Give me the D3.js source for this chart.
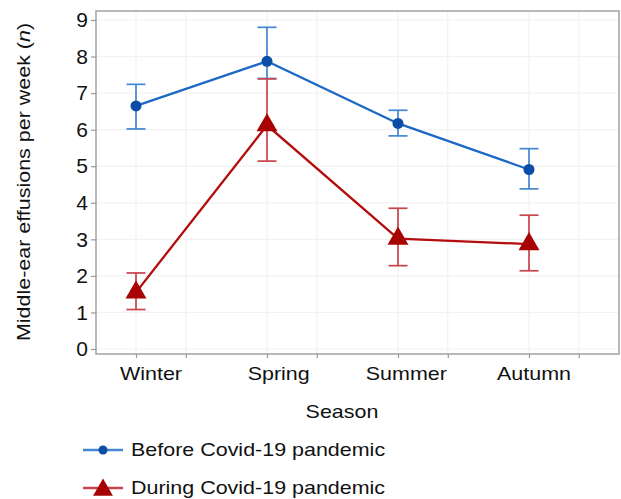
<!DOCTYPE html>
<html>
<head>
<meta charset="utf-8">
<title>Middle-ear effusions per week by season</title>
<script src="https://d3js.org/d3.v7.min.js"></script>
<style>
  body { margin: 0; background: #fff; }
  text { font-family: "Liberation Sans", Arial, sans-serif; fill: #111; }
</style>
</head>
<body>
<script>
// data
var seasons = ["Winter", "Spring", "Summer", "Autumn"];
var beforeMean = [6.65, 7.87, 6.17, 4.91];
var beforeLow  = [6.02, 7.40, 5.83, 4.38];
var beforeHigh = [7.24, 8.80, 6.53, 5.48];
var duringMean = [1.55, 6.12, 3.02, 2.87];
var duringLow  = [1.08, 5.14, 2.28, 2.14];
var duringHigh = [2.08, 7.39, 3.85, 3.66];
var yTicks = [0, 1, 2, 3, 4, 5, 6, 7, 8, 9];
var seriesNames = ["Before Covid-19 pandemic", "During Covid-19 pandemic"];

var W = 621, H = 499;
var svg = d3.select("body").append("svg")
  .attr("width", W).attr("height", H);

var box = {left: 96, top: 11, right: 619, bottom: 354};

var y = d3.scaleLinear().domain([0, 9]).range([349, 20]);
var x = d3.scaleLinear().domain([0, seasons.length - 1]).range([136, 529]);
var xLabel = d3.scaleLinear().domain([0, seasons.length - 1]).range([151, 534]);

// tick positions on the x axis: each season plus a minor one next to it
var xTickVals = [];
seasons.forEach(function(s, i) { xTickVals.push(i, i + 0.38); });

// faint grid
var grid = svg.append("g");
grid.selectAll(".gx").data(xTickVals).enter().append("line")
  .attr("x1", d => x(d)).attr("x2", d => x(d))
  .attr("y1", box.top).attr("y2", box.bottom)
  .attr("stroke", "#f2f2f2").attr("stroke-width", 1.2);
grid.selectAll(".gy").data(yTicks).enter().append("line")
  .attr("x1", box.left).attr("x2", box.right)
  .attr("y1", d => y(d)).attr("y2", d => y(d))
  .attr("stroke", "#f2f2f2").attr("stroke-width", 1.2);

// frame
svg.append("rect")
  .attr("x", box.left).attr("y", box.top)
  .attr("width", box.right - box.left).attr("height", box.bottom - box.top)
  .attr("fill", "none").attr("stroke", "#a8a8a8").attr("stroke-width", 1.6);

// y axis
var yAxis = svg.append("g")
  .attr("transform", "translate(" + box.left + ",0)")
  .call(d3.axisLeft(y).tickValues(yTicks).tickSize(5).tickPadding(3));
yAxis.select(".domain").remove();
yAxis.selectAll(".tick line").attr("stroke", "#999").attr("stroke-width", 1.2);
yAxis.selectAll(".tick text")
  .attr("font-size", 21).attr("fill", "#111")
  .style("font-family", "Liberation Sans, Arial, sans-serif");

// x axis ticks
var xAxis = svg.append("g")
  .attr("transform", "translate(0," + box.bottom + ")")
  .call(d3.axisBottom(x).tickValues(xTickVals).tickSize(4).tickFormat(""));
xAxis.select(".domain").remove();
xAxis.selectAll(".tick line").attr("stroke", "#999").attr("stroke-width", 1.2);

// helper for horizontally widened text
function label(g, px, py, str, size, sx, anchor, rot) {
  var t = g.append("text")
    .attr("transform", "translate(" + px + "," + py + ")" + (rot ? " rotate(" + rot + ")" : "") + " scale(" + sx + ",1)")
    .attr("font-size", size)
    .attr("text-anchor", anchor || "start");
  if (typeof str === "string") t.text(str);
  return t;
}

svg.append("g").selectAll("text").data(seasons).enter().append("text")
  .attr("transform", (d, i) => "translate(" + xLabel(i) + ",380) scale(1.13,1)")
  .attr("text-anchor", "middle").attr("font-size", 19)
  .text(d => d);

label(svg, 342, 418, "Season", 19, 1.13, "middle");

var yt = label(svg, 30, 182, null, 19, 1.13, "middle", -90);
yt.append("tspan").text("Middle-ear effusions per week (");
yt.append("tspan").attr("font-style", "italic").text("n");
yt.append("tspan").text(")");

// series
var series = [
  {mean: beforeMean, low: beforeLow, high: beforeHigh,
   line: "#1c68c6", bar: "#4386d3", mark: "#0b4da6", symbol: "circle"},
  {mean: duringMean, low: duringLow, high: duringHigh,
   line: "#b30d0d", bar: "#c8434a", mark: "#a80303", symbol: "triangle"}
];

var lineGen = d3.line().x((d, i) => x(i)).y(d => y(d));
var capW = 9.5;

series.forEach(function(s) {
  var g = svg.append("g");
  var idx = d3.range(seasons.length);
  var eb = g.selectAll(".eb").data(idx).enter().append("g").attr("stroke", s.bar).attr("stroke-width", 1.7);
  eb.append("line").attr("x1", i => x(i)).attr("x2", i => x(i))
    .attr("y1", i => y(s.low[i])).attr("y2", i => y(s.high[i]));
  eb.append("line").attr("x1", i => x(i) - capW).attr("x2", i => x(i) + capW)
    .attr("y1", i => y(s.low[i])).attr("y2", i => y(s.low[i]));
  eb.append("line").attr("x1", i => x(i) - capW).attr("x2", i => x(i) + capW)
    .attr("y1", i => y(s.high[i])).attr("y2", i => y(s.high[i]));

  g.append("path").datum(s.mean).attr("d", lineGen)
    .attr("fill", "none").attr("stroke", s.line).attr("stroke-width", 2.3);

  if (s.symbol === "circle") {
    g.selectAll("circle").data(s.mean).enter().append("circle")
      .attr("cx", (d, i) => x(i)).attr("cy", d => y(d)).attr("r", 5.5)
      .attr("fill", s.mark);
  } else {
    g.selectAll(".tri").data(s.mean).enter().append("path")
      .attr("d", d3.symbol(d3.symbolTriangle, 190))
      .attr("transform", (d, i) => "translate(" + x(i) + "," + y(d) + ")")
      .attr("fill", s.mark);
  }
});

// legend
var legY = [450, 488];
var leg = svg.append("g");
series.forEach(function(s, k) {
  var ly = legY[k];
  leg.append("line").attr("x1", 83).attr("x2", 123).attr("y1", ly).attr("y2", ly)
    .attr("stroke", s.bar).attr("stroke-width", 2.3);
  if (s.symbol === "circle") {
    leg.append("circle").attr("cx", 103).attr("cy", ly).attr("r", 4.5).attr("fill", s.mark);
  } else {
    leg.append("path").attr("d", d3.symbol(d3.symbolTriangle, 170))
      .attr("transform", "translate(103," + (ly + 2) + ")").attr("fill", s.mark);
  }
  label(leg, 131, ly + 6, seriesNames[k], 19, 1.13, "start");
});
</script>
</body>
</html>
